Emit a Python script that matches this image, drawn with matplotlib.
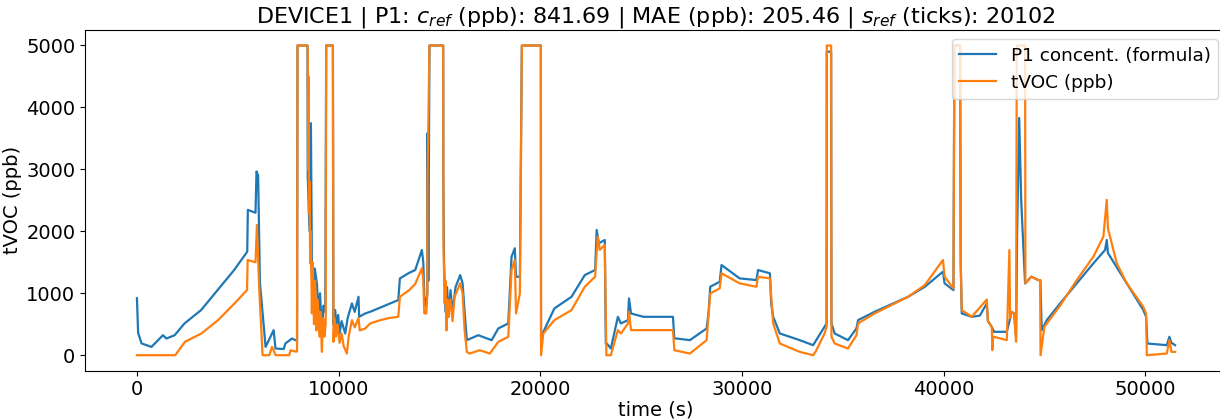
import matplotlib
matplotlib.use("Agg")
import matplotlib.pyplot as plt

# P1 concent. (formula) -- time (s), value (ppb)
p1_t = [0, 60, 230, 720, 1290, 1460, 1870, 2360, 3180, 4000, 4820, 5470, 5500, 5880, 5930, 6010,
        6100, 6380, 6780, 6870, 7280, 7360, 7690, 7850, 7940, 7963, 8458, 8470, 8560, 8627, 8680,
        8750, 8820, 8924, 9000, 9080, 9170, 9252, 9340, 9385, 9718, 9740, 9832, 9900, 9980, 10050,
        10150, 10328, 10450, 10660, 10800, 10987, 11020, 11320, 11567, 12000, 12500, 12960, 13040,
        13500, 13800, 14130, 14200, 14250, 14330, 14400, 14408, 14450, 14507, 15187, 15195, 15230,
        15300, 15380, 15449, 15550, 15650, 15800, 16030, 16150, 16250, 16360, 16923, 17590, 17920,
        18415, 18577, 18738, 18800, 18990, 19088, 20030, 20040, 20700, 21550, 22210, 22720, 22800,
        22900, 23200, 23250, 23300, 23500, 23850, 24000, 24350, 24400, 24500, 25120, 26580, 26650,
        26750, 27420, 28250, 28350, 28430, 28900, 28990, 29890, 30720, 30800, 31390, 31450, 31550,
        31880, 32870, 33530, 34100, 34200, 34210, 34425, 34440, 34600, 35260, 35680, 35760, 36580,
        38240, 39070, 39970, 40050, 40490, 40537, 40820, 40850, 40903, 41399, 41800, 42143, 42200,
        42390, 42500, 43135, 43382, 43500, 43596, 43650, 43750, 43850, 44041, 44350, 44700, 44800,
        44868, 45118, 45778, 46606, 47429, 48009, 48093, 48150, 49085, 49908, 50042, 50107, 51069,
        51198, 51300, 51480]
p1_v = [920, 360, 190, 134, 323, 269, 323, 513, 728, 1052, 1375, 1671, 2346, 2300, 2966, 2900,
        1165, 134, 405, 108, 100, 189, 270, 243, 243, 5000, 5000, 2900, 2000, 3746, 1300,
        800, 1400, 1160, 700, 1000, 400, 800, 700, 5000, 5000, 500, 728, 450, 650, 350,
        550, 351, 600, 836, 700, 943, 620, 674, 701, 760, 830, 890, 1240,
        1330, 1375, 1698, 1500, 943, 800, 1000, 3585, 1200, 5000, 5000, 2802, 1500,
        700, 1100, 620, 1050, 700, 1100, 1294, 1160, 700, 243, 323, 243, 432,
        513, 1591, 1726, 1267, 1267, 5000, 5000, 297, 755, 943, 1294, 1375, 2022,
        1807, 1860, 189, 189, 108, 620, 513, 566, 917, 674, 620, 620, 270,
        270, 243, 432, 700, 1105, 1186, 1456, 1240, 1213, 1375, 1322, 836, 620,
        351, 243, 162, 459, 513, 4900, 4900, 513, 351, 243, 432, 566, 701,
        943, 1105, 1348, 1160, 1051, 5000, 5000, 1500, 674, 620, 640, 835, 550,
        458, 378, 378, 700, 674, 300, 2000, 3830, 2500, 1159, 1267, 1213, 1213,
        405, 566, 836, 1160, 1483, 1699, 1860, 1650, 1160, 728, 620, 189, 162,
        297, 200, 162]

# tVOC (ppb) -- time (s), value (ppb)
tvoc_t = [0, 1899, 2380, 3200, 4020, 4840, 5460, 5490, 5880, 5950, 6060, 6230, 6560, 6700, 6880,
          7550, 7620, 7850, 7940, 7963, 8458, 8470, 8490, 8510, 8530, 8560, 8592, 8620, 8676, 8720,
          8780, 8840, 8900, 8960, 9050, 9110, 9170, 9230, 9300, 9360, 9385, 9718, 9748, 9800, 9870,
          9950, 10050, 10150, 10250, 10412, 10500, 10660, 10800, 10987, 11050, 11320, 11567, 12000,
          12500, 12960, 13040, 13500, 13800, 14130, 14200, 14250, 14350, 14400, 14408, 14507, 15187,
          15202, 15230, 15260, 15300, 15350, 15400, 15449, 15550, 15650, 15750, 16030, 16150, 16250,
          16360, 16500, 17000, 17500, 17920, 18415, 18577, 18738, 18800, 18990, 19088, 20030, 20040,
          20150, 20700, 21550, 22210, 22720, 22850, 22950, 23200, 23280, 23500, 23850, 24000, 24350,
          24400, 24500, 25120, 26580, 26650, 27420, 28250, 28430, 28900, 28990, 29890, 30720, 30800,
          31390, 31550, 31880, 32870, 33530, 33650, 34100, 34200, 34210, 34425, 34440, 34600, 35260,
          35680, 35760, 36580, 38240, 39070, 39970, 40050, 40490, 40537, 40820, 40850, 40903, 41399,
          42143, 42200, 42390, 42420, 42460, 43135, 43264, 43300, 43382, 43500, 43596, 43630, 44041,
          44060, 44350, 44700, 44786, 44810, 45000, 45778, 46606, 47429, 47925, 48093, 48150, 48589,
          49085, 49908, 50042, 50080, 51069, 51198, 51300, 51480]
tvoc_v = [0, 0, 216, 351, 566, 836, 1052, 1537, 1500, 2103, 1105, 0, 0, 134, 0,
          0, 80, 60, 60, 5000, 5000, 4900, 3000, 4500, 2291, 2800, 1483, 2000, 674, 1500,
          500, 1200, 400, 900, 300, 700, 54, 600, 300, 500, 5000, 5000, 216, 600, 300,
          500, 200, 350, 150, 27, 300, 566, 450, 600, 400, 431, 513, 560,
          600, 620, 943, 1050, 1150, 1403, 1200, 674, 674, 1000, 2800, 5000, 5000,
          1806, 1375, 836, 1200, 400, 900, 620, 900, 550, 943, 1160, 1000, 400,
          54, 27, 81, 27, 216, 297, 1375, 1537, 674, 998, 5000, 5000, 0,
          350, 566, 728, 1105, 1267, 1914, 1700, 1780, 0, 0, 405, 350, 513,
          700, 405, 405, 405, 81, 27, 243, 998, 1078, 1322, 1160, 1105, 1267,
          1240, 513, 189, 54, 0, 54, 351, 459, 5000, 5000, 300, 189, 108,
          323, 513, 674, 943, 1132, 1537, 1267, 1078, 5000, 5000, 1500, 728, 620,
          900, 550, 458, 81, 300, 243, 1698, 600, 700, 674, 216, 5000, 5000,
          1159, 1267, 1213, 1213, 0, 459, 800, 1213, 1591, 1914, 2508, 2050, 1483,
          1160, 780, 674, 0, 27, 243, 54, 54]

title = r'DEVICE1 | P1: $c_{ref}$ (ppb): 841.69 | MAE (ppb): 205.46 | $s_{ref}$ (ticks): 20102'

fig = plt.figure(figsize=(12.2, 4.19), dpi=100)
ax = fig.add_axes([85 / 1220, 48.3 / 419, 1142.4 / 1220, 340.7 / 419])
ax.plot(p1_t, p1_v, color='#1f77b4', lw=1.6, label='P1 concent. (formula)')
ax.plot(tvoc_t, tvoc_v, color='#ff7f0e', lw=1.6, label='tVOC (ppb)')
ax.set_xlim(-2575, 54075)
ax.set_ylim(-250, 5250)
ax.set_title(title, fontsize=16, pad=5)
ax.set_xlabel('time (s)', fontsize=14, labelpad=1)
ax.set_ylabel('tVOC (ppb)', fontsize=14, labelpad=3)
ax.tick_params(labelsize=14)
ax.legend(loc='upper right', fontsize=13.3, borderaxespad=0.5)
fig.savefig('out.png', dpi=100)
